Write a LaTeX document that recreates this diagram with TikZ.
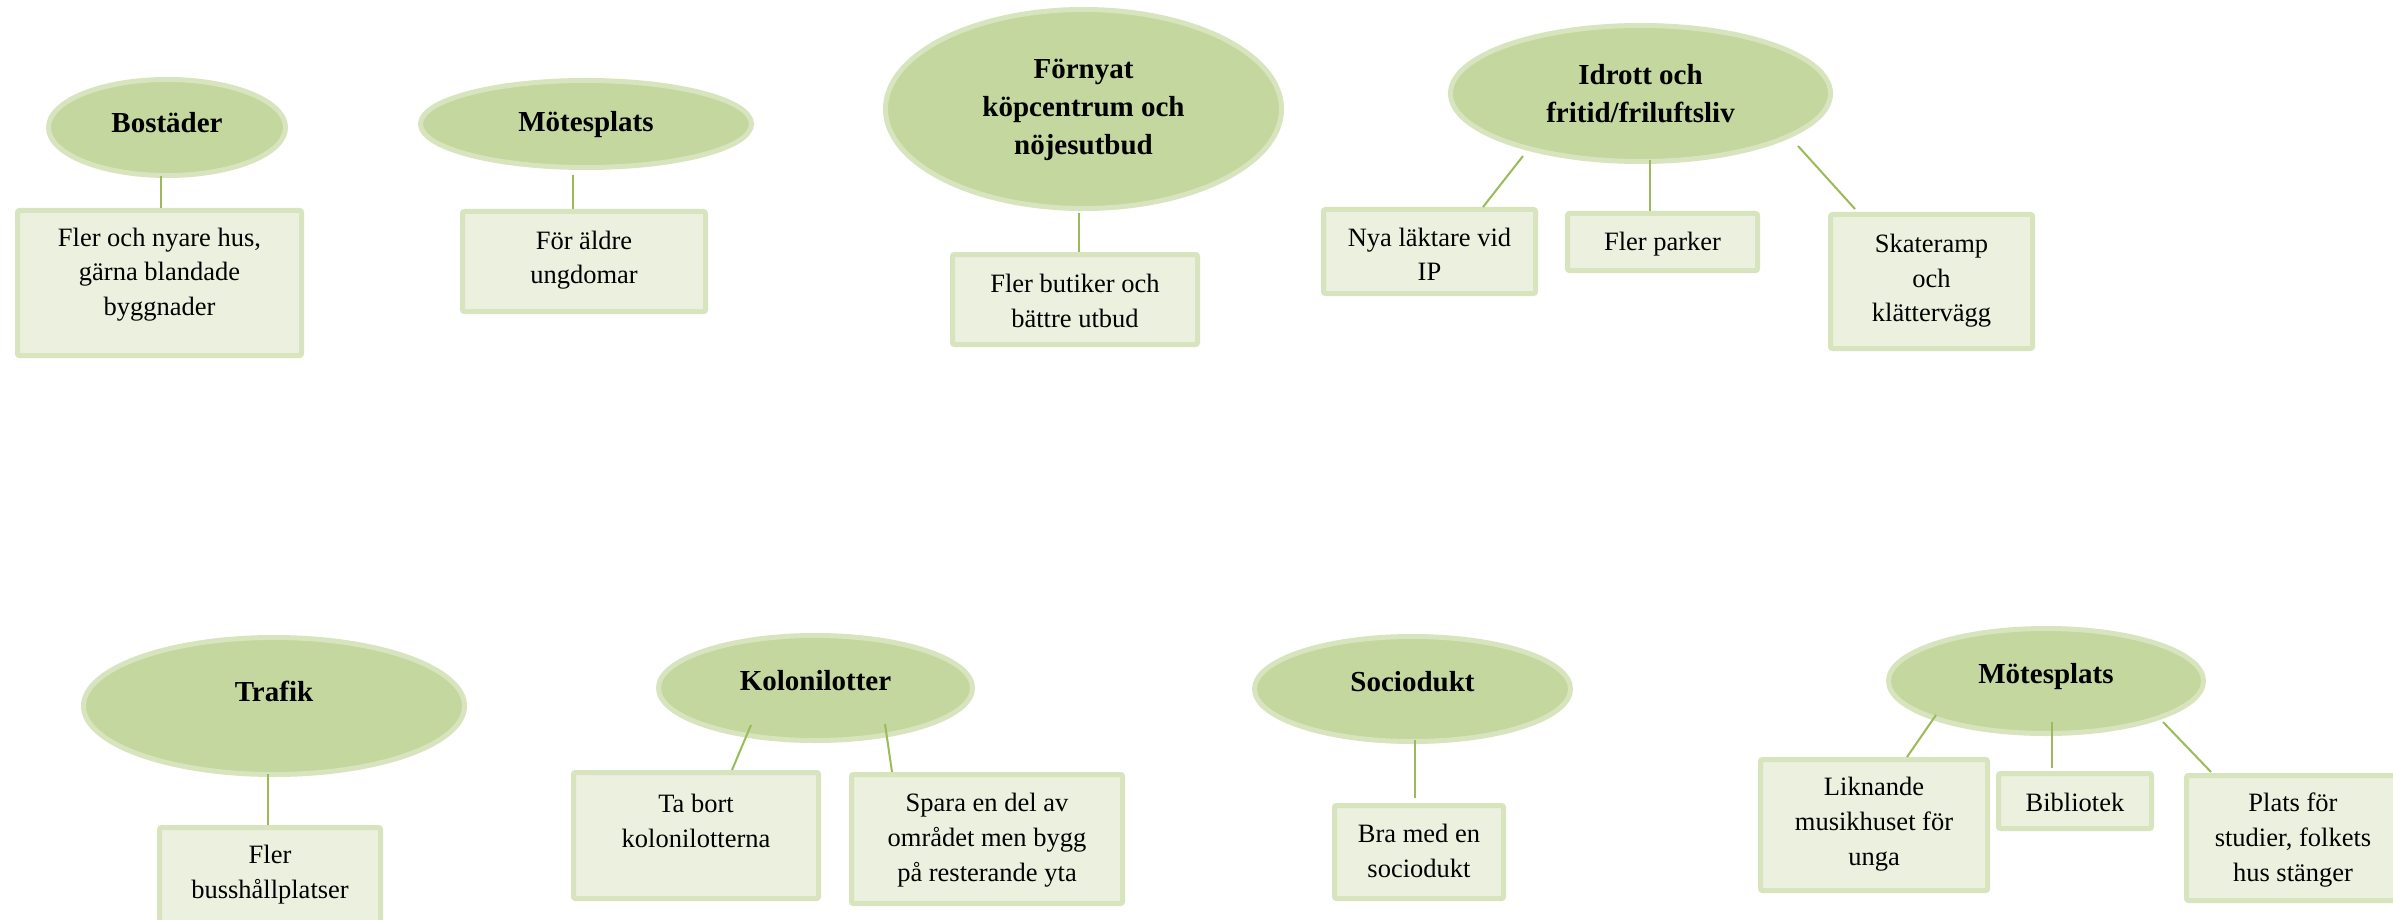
\documentclass[tikz,border=0pt]{standalone}
\usepackage{fontspec}
\setmainfont{Liberation Serif}
\usetikzlibrary{shapes.geometric}
\definecolor{elfill}{RGB}{196,215,159}
\definecolor{elline}{RGB}{215,228,189}
\definecolor{bxfill}{RGB}{235,241,222}
\definecolor{bxline}{RGB}{215,228,189}
\definecolor{conncol}{RGB}{155,187,89}
\newcommand\bxt[1]{\parbox[t]{400pt}{\centering\fontsize{26.5pt}{35pt}\selectfont #1}}
\newcommand\elt[1]{\parbox[t]{500pt}{\centering\fontsize{29pt}{38pt}\selectfont\bfseries #1}}
\begin{document}
\begin{tikzpicture}[x=1pt,y=-1pt,
  bubble/.style={ellipse, draw=elline, fill=elfill, line width=5pt, inner sep=0pt},
  card/.style={rectangle, draw=bxline, fill=bxfill, line width=5pt, inner sep=0pt, rounded corners=2pt},
  txt/.style={anchor=base, inner sep=0pt, text=black},
  conn/.style={draw=conncol, line width=2pt}]
\useasboundingbox (0,0) rectangle (2393,920);
\fill[white] (0,0) rectangle (2393,920);
\clip (0,0) rectangle (2393,920);

% ellipses
\node[bubble, minimum width=237pt, minimum height=96pt, label={[txt,yshift=-56pt]north:\elt{Bostäder}}] (e1) at (167,127.5) {};
\node[bubble, minimum width=331pt, minimum height=87pt, label={[txt,yshift=-54pt]north:\elt{Mötesplats}}] (e2) at (586,124) {};
\node[bubble, minimum width=396pt, minimum height=199pt, label={[txt,yshift=-72pt]north:\elt{Förnyat\\köpcentrum och\\nöjesutbud}}] (e3) at (1083.5,109) {};
\node[bubble, minimum width=380pt, minimum height=136pt, label={[txt,yshift=-62pt]north:\elt{Idrott och\\fritid/friluftsliv}}] (e4) at (1640.5,93.5) {};
\node[bubble, minimum width=381pt, minimum height=137pt, label={[txt,yshift=-66.7pt]north:\elt{Trafik}}] (e5) at (274,706) {};
\node[bubble, minimum width=314pt, minimum height=105pt, label={[txt,yshift=-57.7pt]north:\elt{Kolonilotter}}] (e6) at (815.5,688) {};
\node[bubble, minimum width=316pt, minimum height=105pt, label={[txt,yshift=-57.7pt]north:\elt{Sociodukt}}] (e7) at (1412.5,689) {};
\node[bubble, minimum width=315pt, minimum height=105pt, label={[txt,yshift=-57.3pt]north:\elt{Mötesplats}}] (e8) at (2046,681) {};

% boxes
\node[card, minimum width=284pt, minimum height=145pt, label={[txt,yshift=-38pt]north:\bxt{Fler och nyare hus,\\gärna blandade\\byggnader}}] (b1) at (159.5,283) {};
\node[card, minimum width=243pt, minimum height=100pt, label={[txt,yshift=-40pt]north:\bxt{För äldre\\ungdomar}}] (b2) at (584,261.5) {};
\node[card, minimum width=245pt, minimum height=90pt, label={[txt,yshift=-40pt]north:\bxt{Fler butiker och\\bättre utbud}}] (b3) at (1075,299.5) {};
\node[card, minimum width=212pt, minimum height=84pt, label={[txt,yshift=-39pt]north:\bxt{Nya läktare vid\\IP}}] (b4) at (1429.5,251.5) {};
\node[card, minimum width=190pt, minimum height=57pt, label={[txt,yshift=-40pt]north:\bxt{Fler parker}}] (b5) at (1662.5,242) {};
\node[card, minimum width=202pt, minimum height=134pt, label={[txt,yshift=-40pt]north:\bxt{Skateramp\\och\\klättervägg}}] (b6) at (1931.5,281.5) {};
\node[card, minimum width=221pt, minimum height=130pt, label={[txt,yshift=-38pt]north:\bxt{Fler\\busshållplatser}}] (b7) at (270,892.5) {};
\node[card, minimum width=245pt, minimum height=126pt, label={[txt,yshift=-42.5pt]north:\bxt{Ta bort\\kolonilotterna}}] (b8) at (696,835.5) {};
\node[card, minimum width=271pt, minimum height=129pt, label={[txt,yshift=-39.5pt]north:\bxt{Spara en del av\\området men bygg\\på resterande yta}}] (b9) at (987,839) {};
\node[card, minimum width=169pt, minimum height=93pt, label={[txt,yshift=-39pt]north:\bxt{Bra med en\\sociodukt}}] (b10) at (1419,852) {};
\node[card, minimum width=227pt, minimum height=131pt, label={[txt,yshift=-38pt]north:\bxt{Liknande\\musikhuset för\\unga}}] (b11) at (1874,825) {};
\node[card, minimum width=153pt, minimum height=55pt, label={[txt,yshift=-40pt]north:\bxt{Bibliotek}}] (b12) at (2075,801) {};
\node[card, minimum width=213pt, minimum height=125pt, label={[txt,yshift=-38pt]north:\bxt{Plats för\\studier, folkets\\hus stänger}}] (b13) at (2293,838) {};

% connectors
\draw[conn] ([shift={(-6,48.5)}]e1.center) -- ([xshift=1.5pt]b1.north);
\draw[conn] ([shift={(-13,51)}]e2.center) -- ([xshift=-11pt]b2.north);
\draw[conn] ([shift={(-4.5,104)}]e3.center) -- ([xshift=4pt]b3.north);
\draw[conn] ([shift={(-117.5,62.5)}]e4.center) -- ([xshift=53.5pt]b4.north);
\draw[conn] ([shift={(9.5,66.5)}]e4.center) -- ([xshift=-12.5pt]b5.north);
\draw[conn] ([shift={(157.5,52.5)}]e4.center) -- ([shift={(-76.5,-3)}]b6.north);
\draw[conn] ([shift={(-6,68)}]e5.center) -- ([xshift=-2pt]b7.north);
\draw[conn] ([shift={(-64.5,37)}]e6.center) -- ([xshift=36pt]b8.north);
\draw[conn] ([shift={(69.5,36)}]e6.center) -- ([xshift=-95pt]b9.north);
\draw[conn] ([shift={(2.5,51)}]e7.center) -- ([shift={(-4,-5)}]b10.north);
\draw[conn] ([shift={(-110,34)}]e8.center) -- ([xshift=33pt]b11.north);
\draw[conn] ([shift={(6,41)}]e8.center) -- ([shift={(-23,-3)}]b12.north);
\draw[conn] ([shift={(117,41)}]e8.center) -- ([shift={(-82,-1)}]b13.north);
\end{tikzpicture}
\end{document}
